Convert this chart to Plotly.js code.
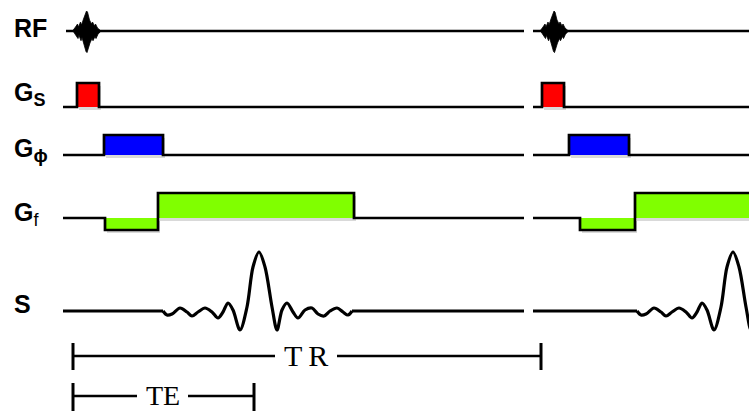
<!DOCTYPE html>
<html>
<head>
<meta charset="utf-8">
<script src="https://cdn.plot.ly/plotly-3.0.1.min.js"></script>
<style>html,body{margin:0;padding:0;background:#fff}#chart{width:749px;height:411px}</style>
</head>
<body>
<div id="chart"></div>
<script>
// ---- Data (time axis in arbitrary units, amplitude rows) ----
const channelLabels = ['RF', 'G<sub><span style="font-size:18px">S</span></sub>', 'G<sub><span style="font-size:19px">\u03d5</span></sub>', 'G<sub><span style="font-size:18px;font-weight:normal">f</span></sub>', 'S'];
const labelY = [28, 94, 150, 214, 304];
const channelBase = [31, 107, 155, 218, 311];
const lineStart = [66, 63, 63, 63, 63];
const cycleStart = [0, 533];
const cycleEnd = [524, 760];

const rfCenter = [86.5, 554];
const rfDx  = [-14, -12, -11, -9, -8, -6, -5, -3, -2, -1, 0, 1, 2, 3, 5, 6, 8, 9, 11, 12, 14];
const rfAmp = [0, 2, 4, 7, 4, 9, 6, 12, 15, 19, 20, 19, 15, 11, 7, 9, 5, 7, 3, 2, 0];

const gsStart = [77, 542];
const gsEnd   = [99, 564];
const gsAmp   = 24;

const gpStart = [104, 569];
const gpEnd   = [163, 629];
const gpAmp   = 20;

const gfNegStart = [105, 580];
const gfNegEnd   = [158, 635];
const gfNegAmp   = -12;
const gfPosEnd   = [354, 760];
const gfPosAmp   = 25;

const echoCenter = [259, 733];
const echoDx  = [-96, -92, -87, -79, -72, -67, -61, -54, -47, -41, -36, -31, -26, -19, -12, -6, 0, 6, 13, 18, 23, 28, 34, 39, 46, 53, 59, 65, 71, 78, 84, 89, 93];
const echoAmp = [0, -4, -3, 3, -1, -5, -1, 3, -1, -7, -1, 8, 1, -19, 4, 44, 59, 44, 4, -19, 1, 8, -1, -7, 1, 3, -3, -5, 0, 3, -1, -4, 0];

const trSpan = [73, 541];
const teSpan = [73, 254];
const trLabel = 'T\u2009R';
const teLabel = 'TE';

// ---- Build traces ----
const traces = [];
const LW = 2.7;
const BLACK = '#000';

function fillRect(x0, x1, y0, y1, color) {
  traces.push({x: [x0+2, x1+2, x1+2, x0+2, x0+2], y: [y0+3, y0+3, y1+3, y1+3, y0+3], mode: 'lines', fill: 'toself',
    fillcolor: 'rgba(0,0,0,0.15)', line: {width: 0}, hoverinfo: 'skip'});
  traces.push({x: [x0, x1, x1, x0, x0], y: [y0, y0, y1, y1, y0], mode: 'lines', fill: 'toself',
    fillcolor: color, line: {width: 0}, hoverinfo: 'skip'});
}
function poly(xs, ys, w, shape) {
  traces.push({x: xs, y: ys, mode: 'lines', line: {color: BLACK, width: w || LW, shape: shape || 'linear', smoothing: 0.9},
    hoverinfo: 'skip'});
}

for (let k = 0; k < 2; k++) {
  // RF
  {
    const b = channelBase[0];
    poly([k === 0 ? lineStart[0] : cycleStart[k], cycleEnd[k]], [b, b]);
    const xs = [], ys = [];
    rfDx.forEach((d, i) => { xs.push(rfCenter[k] + d); ys.push(b - rfAmp[i]); });
    for (let i = rfDx.length - 1; i >= 0; i--) { xs.push(rfCenter[k] + rfDx[i] + 0.5); ys.push(b + rfAmp[i] * 1.08); }
    traces.push({x: xs, y: ys, mode: 'lines', fill: 'toself', fillcolor: BLACK, line: {color: BLACK, width: 0.8}, hoverinfo: 'skip'});
  }
  // Gs
  {
    const b = channelBase[1];
    fillRect(gsStart[k], gsEnd[k], b, b - gsAmp, '#ff0000');
    poly([k === 0 ? lineStart[1] : cycleStart[k], gsStart[k], gsStart[k], gsEnd[k], gsEnd[k], cycleEnd[k]],
         [b, b, b - gsAmp, b - gsAmp, b, b]);
  }
  // Gphi
  {
    const b = channelBase[2];
    fillRect(gpStart[k], gpEnd[k], b, b - gpAmp, '#0000ff');
    poly([k === 0 ? lineStart[2] : cycleStart[k], gpStart[k], gpStart[k], gpEnd[k], gpEnd[k], cycleEnd[k]],
         [b, b, b - gpAmp, b - gpAmp, b, b]);
  }
  // Gf
  {
    const b = channelBase[3];
    fillRect(gfNegStart[k], gfNegEnd[k], b, b - gfNegAmp, '#80ff00');
    fillRect(gfNegEnd[k], gfPosEnd[k], b, b - gfPosAmp, '#80ff00');
    poly([k === 0 ? lineStart[3] : cycleStart[k], gfNegStart[k], gfNegStart[k], gfNegEnd[k], gfNegEnd[k], gfPosEnd[k], gfPosEnd[k], cycleEnd[k]],
         [b, b, b - gfNegAmp, b - gfNegAmp, b - gfPosAmp, b - gfPosAmp, b, b]);
  }
  // Signal: flat lead-in, echo, flat tail
  {
    const b = channelBase[4];
    const first = echoCenter[k] + echoDx[0];
    const last = echoCenter[k] + echoDx[echoDx.length - 1];
    poly([k === 0 ? lineStart[4] : cycleStart[k], first], [b, b], 3);
    const xs = [], ys = [];
    echoDx.forEach((d, i) => { xs.push(echoCenter[k] + d); ys.push(b - echoAmp[i]); });
    poly(xs, ys, 3.2, 'spline');
    poly([last, cycleEnd[k]], [b, b], 3);
  }
}

// TR / TE brackets
function bracket(span, y, gapL, gapR, tickUp, tickDn) {
  poly([span[0], span[0]], [y - tickUp, y + tickDn], 3);
  poly([span[1], span[1]], [y - tickUp, y + tickDn], 3);
  poly([span[0], gapL], [y, y], 2.4);
  poly([gapR, span[1]], [y, y], 2.4);
}
bracket(trSpan, 356, 275, 337, 13, 14);
bracket(teSpan, 396, 137, 188, 13, 16);

const annotations = [];
channelLabels.forEach((t, i) => {
  annotations.push({x: 12, y: labelY[i], xref: 'x', yref: 'y', text: '<b>' + t + '</b>',
    showarrow: false, xanchor: 'left', yanchor: 'middle',
    font: {family: 'Liberation Sans, Arial, sans-serif', size: 25, color: '#000'}});
});
annotations.push({x: (275 + 337) / 2, y: 355, xref: 'x', yref: 'y', text: trLabel, showarrow: false,
  xanchor: 'center', yanchor: 'middle', font: {family: 'Liberation Serif, Times New Roman, serif', size: 30, color: '#000'}});
annotations.push({x: (137 + 188) / 2, y: 411, xref: 'x', yref: 'y', text: teLabel, showarrow: false,
  xanchor: 'center', yanchor: 'bottom', yshift: -2, font: {family: 'Liberation Serif, Times New Roman, serif', size: 28, color: '#000'}});

const layout = {
  width: 749, height: 411,
  margin: {l: 0, r: 0, t: 0, b: 0, pad: 0},
  paper_bgcolor: '#fff', plot_bgcolor: '#fff',
  showlegend: false,
  xaxis: {range: [0, 749], visible: false, fixedrange: true},
  yaxis: {range: [411, 0], visible: false, fixedrange: true},
  annotations: annotations
};
Plotly.newPlot('chart', traces, layout, {displayModeBar: false, staticPlot: true});
</script>
</body>
</html>
